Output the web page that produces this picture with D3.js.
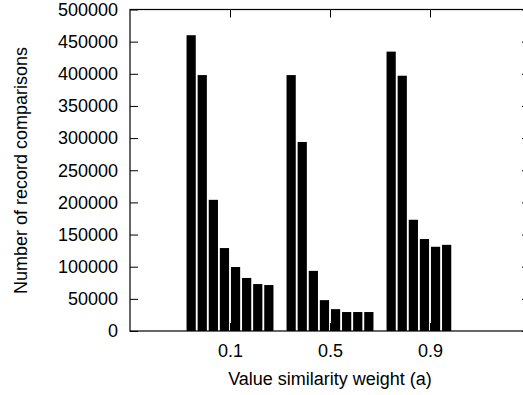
<!DOCTYPE html>
<html>
<head>
<meta charset="utf-8">
<script src="https://cdn.jsdelivr.net/npm/d3@7.9.0/dist/d3.min.js"></script>
<style>
  body { margin: 0; background: #fff; }
  svg { display: block; font-family: "Liberation Sans", Arial, Helvetica, sans-serif; }
  .tick text { font-size: 18px; fill: #000; }
</style>
</head>
<body>
<svg id="chart" width="523" height="395"></svg>
<script>
// value similarity weights on the x axis
const weights = [0.1, 0.5, 0.9];
// record comparisons per weight, one bar per setting (null = no bar)
const comparisons01 = [460000, 398000, 204000, 129000, 99500, 82500, 73000, 71500];
const comparisons05 = [398000, 294000, 93500, 48000, 34000, 29500, 29500, 29500];
const comparisons09 = [434500, 397000, 173000, 143000, 131000, 134000, null, null];
const yTicks = [0, 50000, 100000, 150000, 200000, 250000, 300000, 350000, 400000, 450000, 500000];

const groups = [comparisons01, comparisons05, comparisons09];
const nBars = 8;

const svg = d3.select('#chart');
const plotLeft = 130, plotRight = 530, plotTop = 9.5, plotBottom = 331;

const x = d3.scaleLinear().domain([-0.3, 1.3]).range([plotLeft, plotRight]);
const y = d3.scaleLinear().domain([0, 500000]).range([plotBottom, plotTop]);
// position of each bar inside its cluster, in pixels from the cluster centre
const inner = d3.scaleBand()
  .domain(d3.range(nBars))
  .range([-44.4, 44.4])
  .paddingInner(0.17)
  .paddingOuter(0.085);

const bars = [];
groups.forEach((vals, gi) => {
  vals.forEach((v, i) => {
    if (v != null) bars.push({ w: weights[gi], i, v });
  });
});

svg.append('g')
  .selectAll('rect')
  .data(bars)
  .join('rect')
  .attr('x', d => x(d.w) + inner(d.i))
  .attr('width', inner.bandwidth())
  .attr('y', d => y(d.v))
  .attr('height', d => y(0) - y(d.v))
  .attr('fill', '#000');

// axes, ticks pointing inward
const yAxis = svg.append('g')
  .attr('transform', `translate(${plotLeft},0)`)
  .call(d3.axisLeft(y).tickValues(yTicks).tickFormat(d3.format('d')).tickSize(-8).tickPadding(12));
const yAxisR = svg.append('g')
  .attr('transform', `translate(${plotRight},0)`)
  .call(d3.axisRight(y).tickValues(yTicks).tickFormat('').tickSize(-8));
const xAxis = svg.append('g')
  .attr('transform', `translate(0,${plotBottom})`)
  .call(d3.axisBottom(x).tickValues(weights).tickFormat(d3.format('.1f')).tickSize(-8).tickPadding(13));
const xAxisT = svg.append('g')
  .attr('transform', `translate(0,${plotTop})`)
  .call(d3.axisTop(x).tickValues(weights).tickFormat('').tickSize(-8));

[yAxis, yAxisR, xAxis, xAxisT].forEach(a => {
  a.select('.domain').remove();
  a.selectAll('.tick line').attr('stroke', '#000');
});

// plot frame
svg.append('rect')
  .attr('x', plotLeft)
  .attr('y', plotTop)
  .attr('width', plotRight - plotLeft)
  .attr('height', plotBottom - plotTop)
  .attr('fill', 'none')
  .attr('stroke', '#000')
  .attr('stroke-width', 1.2);

svg.append('text')
  .attr('x', x(0.5))
  .attr('y', 385)
  .attr('text-anchor', 'middle')
  .attr('font-size', 18)
  .text('Value similarity weight (a)');

svg.append('text')
  .attr('transform', 'translate(27,170.5) rotate(-90)')
  .attr('text-anchor', 'middle')
  .attr('font-size', 18)
  .text('Number of record comparisons');
</script>
</body>
</html>
